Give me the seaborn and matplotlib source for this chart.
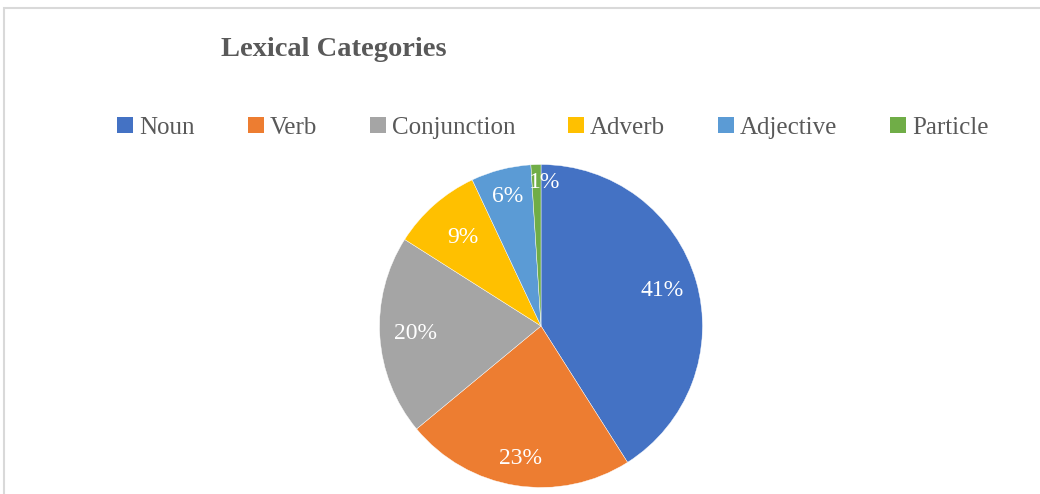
import matplotlib
matplotlib.use("Agg")
import numpy as np
import matplotlib.pyplot as plt
import seaborn as sns
from matplotlib.patches import Rectangle, Patch

# data
categories = ['Noun', 'Verb', 'Conjunction', 'Adverb', 'Adjective', 'Particle']
shares = [41, 23, 20, 9, 6, 1]
slice_colors = ['#4472C4', '#ED7D31', '#A5A5A5', '#FFC000', '#5B9BD5', '#70AD47']
title_text = 'Lexical Categories'

sns.set_theme(style='white')
plt.rcParams['font.family'] = ['Liberation Serif', 'DejaVu Serif']

fig = plt.figure(figsize=(10.4, 4.94), dpi=100)
fig.patch.set_facecolor('white')

# light chart-area border (runs off the right and bottom edges)
fig.add_artist(Rectangle((4 / 1040, -0.1), 1.2, 1 - 8 / 494 + 0.1,
                         transform=fig.transFigure, fill=False,
                         edgecolor='#D9D9D9', linewidth=1.5))

palette = sns.color_palette(slice_colors)
ax = fig.add_axes([0.3649, 0.0132, 0.3106, 0.6538])
wedges, texts, autotexts = ax.pie(
    shares, colors=palette, startangle=90, counterclock=False,
    autopct='%1.0f%%', pctdistance=0.8, radius=1,
    wedgeprops=dict(linewidth=0.3, edgecolor='white'),
    textprops=dict(color='white', fontsize=17))

# "best fit" style label radii, like the office chart
label_radius = [0.78, 0.83, 0.78, 0.73, 0.83, 0.89]
for w, t, r in zip(wedges, autotexts, label_radius):
    ang = np.deg2rad((w.theta1 + w.theta2) / 2)
    t.set_position((r * np.cos(ang), r * np.sin(ang)))
autotexts[-1].set_x(autotexts[-1].get_position()[0] + 0.05)

ax.set_xlim(-1, 1)
ax.set_ylim(-1, 1)
ax.set_aspect('equal')
ax.axis('off')

fig.text(334 / 1040, 1 - 50 / 494, title_text, ha='center', va='center',
         fontsize=20.5, fontweight='bold', color='#595959')

handles = [Patch(facecolor=c, edgecolor='none') for c in palette]
fig.legend(handles, categories, loc='center', bbox_to_anchor=(553 / 1040, 1 - 128 / 494),
           ncol=6, frameon=False, fontsize=18, labelcolor='#595959',
           handlelength=0.64, handleheight=0.64, handletextpad=0.25,
           columnspacing=2.1)

fig.savefig('out.png', dpi=100)
